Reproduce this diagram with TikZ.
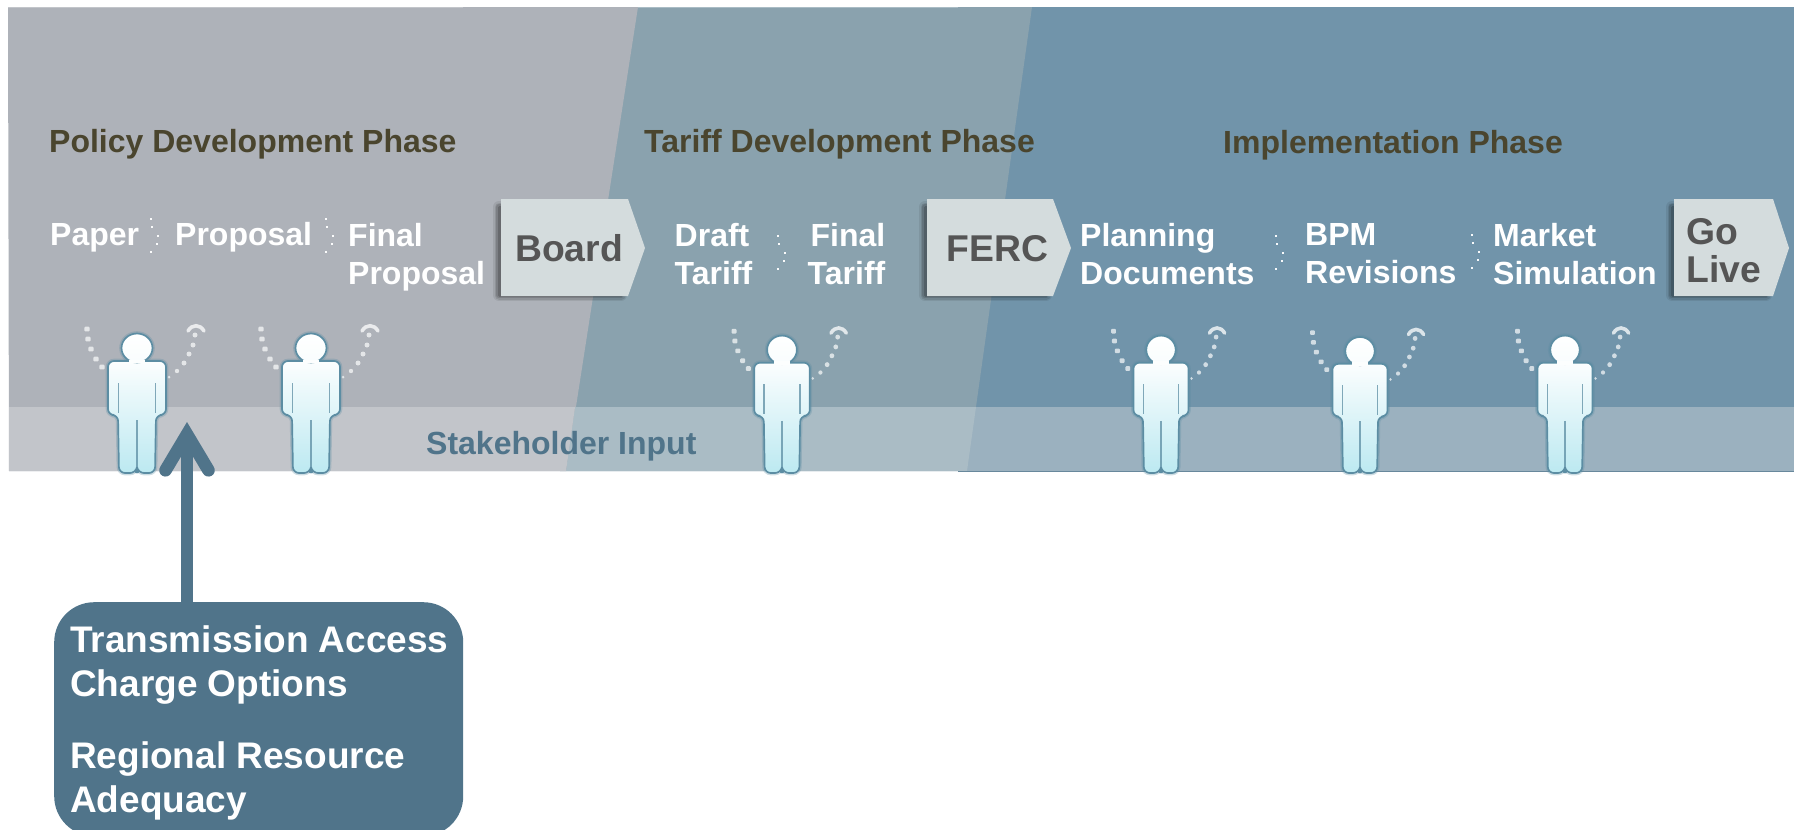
\documentclass[tikz,border=0pt]{standalone}
\usepackage{fontspec}
\setmainfont{Liberation Sans}
\usetikzlibrary{arrows.meta}
\definecolor{panelA}{HTML}{AEB2B9}
\definecolor{panelB}{HTML}{8AA2AE}
\definecolor{panelC}{HTML}{7194AA}
\definecolor{bandA}{HTML}{C2C5CA}
\definecolor{bandB}{HTML}{AABCC5}
\definecolor{bandC}{HTML}{9BB1BF}
\definecolor{olive}{HTML}{4A452E}
\definecolor{slate}{HTML}{50748A}
\definecolor{gatefill}{HTML}{D4DCDD}
\definecolor{gateink}{HTML}{555555}
\definecolor{figline}{HTML}{5C8DA3}
\definecolor{figbottom}{HTML}{BCE9F1}
\tikzset{
  stepnote/.style={font=\bfseries\fontsize{32}{38}\selectfont,text=white,anchor=north west,inner sep=0pt,align=left},
  stepnoteR/.style={stepnote,align=right,anchor=north east},
  phase/.style={font=\bfseries\fontsize{32}{38}\selectfont,text=olive,anchor=base west,inner sep=0pt},
  gateword/.style={font=\bfseries\fontsize{37.3}{38}\selectfont,text=gateink,anchor=north west,inner sep=0pt,align=left},
  figdot/.style={fill=white,fill opacity=.68},
  sepdot/.style={fill=white,fill opacity=.95},
}
% gate box: x-left, x-shoulder, x-tip
\newcommand{\gatebox}[3]{%
  \foreach \w/\o in {12/.08,9/.1,6/.13,3/.17}{
    \draw[line width=\w pt,black,opacity=\o,line join=round]
      (#1-2,207) -- (#2-7,207) -- (#2-7,295) -- (#1-2,295) -- cycle;
  }
  \fill[gatefill] (#1,199) -- (#2,199) -- (#3,248) -- (#2,296) -- (#1,296) -- cycle;
}
% person: centre x, xscale, yscale
\newcommand{\stakeholder}[3]{%
  \begin{scope}[shift={(#1,473)}]
    \begin{scope}[xscale=#2,yscale=#3]
    \foreach \p in {(-50,-144),(-49,-134),(-46,-124),(-41,-114),(-35,-106)}{
      \fill[figdot,rounded corners=1pt] \p ++(-2.6,-2.4) rectangle ++(5.2,4.8);}
    \foreach \p/\r in {(32,-96)/1.5,(40,-102)/2.2,(47,-110)/2.5,(52,-119)/2.5,(56,-128)/2.5,(58,-138)/2.5}{
      \fill[figdot] \p circle (\r);}
    \draw[white,opacity=.75,line width=3.6pt,line cap=round] (51,-142) .. controls (55,-149) and (63,-149) .. (67,-142);
    \draw[figline,opacity=.3,line width=4.6pt,rounded corners=6pt]
      (0,-112) -- (-29,-112) -- (-29,-58) -- (-19,-58) -- (-18,0) -- (-1,0) -- (0,-6) -- (1,0) -- (18,0) -- (19,-58) -- (29,-58) -- (29,-112) -- cycle;
    \draw[figline,opacity=.3,line width=4.6pt] (0,-125) ellipse (15.5 and 14.5);
    \shade[top color=white!95!figbottom,bottom color=figbottom,draw=figline,line width=1.7pt,rounded corners=6pt]
      (0,-112) -- (-29,-112) -- (-29,-58) -- (-19,-58) -- (-18,0) -- (-1,0) -- (0,-6) -- (1,0) -- (18,0) -- (19,-58) -- (29,-58) -- (29,-112) -- cycle;
    \draw[figline,opacity=.75,line width=1.6pt] (-18.5,-90) -- (-18.5,-60) (18.5,-90) -- (18.5,-60) (0,-53) -- (0,-6);
    \shade[top color=white,bottom color=white!90!figbottom,draw=figline,line width=1.7pt] (0,-125) ellipse (15.5 and 14.5);
    \fill[white!95!figbottom] (-8,-113.5) rectangle (8,-110);
    \end{scope}
  \end{scope}
}
\newcommand{\sepdots}[2]{%
  \begin{scope}[shift={(#1,#2)}]
    \foreach \p in {(0,0),(1,8),(7,17),(6,25),(0,33)}{
      \fill[sepdot] \p ++(-1.3,-1.3) rectangle ++(2.6,2.6);}
  \end{scope}
}
\begin{document}
\begin{tikzpicture}[x=1pt,y=-1pt]
\useasboundingbox (0,0) rectangle (1794,830);
\clip (0,0) rectangle (1794,830);
% panels
\fill[panelC] (958,7) rectangle (1794,471);
\fill[panelB] (630,7) -- (1032,7) -- (967,471) -- (560,471) -- cycle;
\fill[panelA] (8,7) -- (638,7) -- (566,471) -- (9,471) -- cycle;
% band
\fill[bandC] (960,407) rectangle (1794,471);
\fill[bandB] (575,407) -- (976,407) -- (967,471) -- (566,471) -- cycle;
\fill[bandA] (9,407) -- (575,407) -- (566,471) -- (9,471) -- cycle;
\draw[panelC!92!black,line width=1.5pt] (958,471.5) -- (1794,471.5);
\draw[bandA,line width=1pt] (8,7) -- (463,7);
\draw[bandB,line width=1pt] (638,7) -- (958,7);
% titles
\node[phase] (titleA) at (49,152) {Policy Development Phase};
\node[phase] (titleB) at (644,152.5) {Tariff Development Phase};
\node[phase] (titleC) at (1223,153.5) {Implementation Phase};
\node[phase,text=slate] (input) at (426,454) {Stakeholder Input};
% steps
\node[stepnote,anchor=base west] (paper) at (50,245) {Paper};
\node[stepnote,anchor=base west] (proposal) at (175,245) {Proposal};
\node[stepnote] (finalp) at (348,223.5) {Final\\Proposal};
\node[stepnote] (draft) at (674.5,223.5) {Draft\\Tariff};
\node[stepnoteR] (finalt) at (885.5,223.5) {Final\\Tariff};
\node[stepnote] (planning) at (1080,223.5) {Planning\\Documents};
\node[stepnote] (bpm) at (1305,223.5) {BPM\\ Revisions};
\node[stepnote] (market) at (1493,223.5) {Market\\Simulation};
\sepdots{151}{219}
\sepdots{326}{219}
\sepdots{778}{236}
\sepdots{1276}{236}
\sepdots{1472}{235}
% gates
\gatebox{501}{628}{645}
\gatebox{927}{1053}{1071}
\gatebox{1674}{1773}{1789}
\node[gateword] (board) at (515,234) {Board};
\node[gateword] (ferc) at (946.5,235.5) {FERC};
\node[gateword] (golive) at (1686,218) {Go\\Live};
% people
\stakeholder{137}{1}{1}
\stakeholder{311}{1}{1}
\stakeholder{782}{.96}{.985}
\stakeholder{1161}{.95}{.985}
\stakeholder{1360}{.95}{.975}
\stakeholder{1565}{.95}{.985}
% callout
\node[fill=slate,rounded corners=40pt,anchor=north west,minimum width=409pt,minimum height=234pt,inner sep=0pt] (callout) at (54,602) {};
\node[font=\bfseries\fontsize{37}{44}\selectfont,text=white,anchor=north west,inner sep=0pt,align=left] (callouttext) at (70,625)
  {Transmission Access\\Charge Options\\[28pt]Regional Resource\\Adequacy};
\coordinate (arrowtip) at (187,422);
\draw[slate,line width=12.6pt,-{Straight Barb[length=36pt,width=43pt,line cap=round]}] (callout.north -| arrowtip) -- (arrowtip);
\end{tikzpicture}
\end{document}
